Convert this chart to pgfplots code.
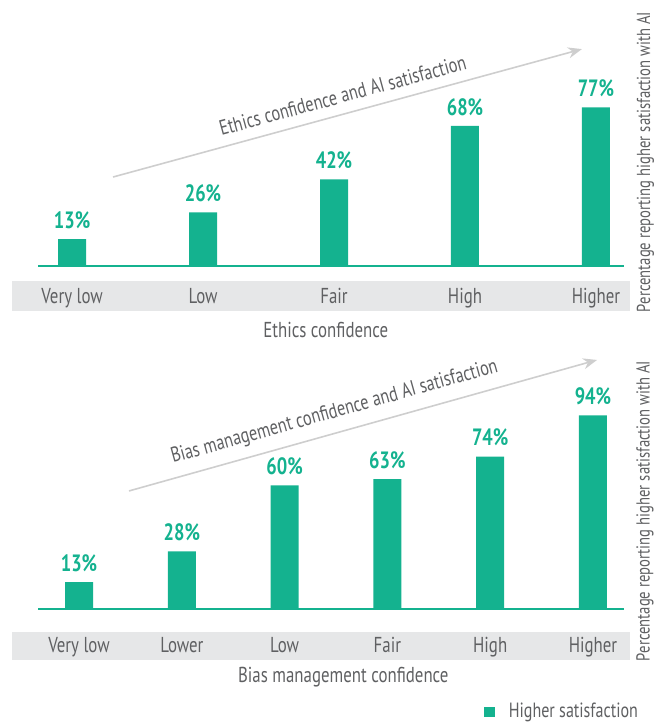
\documentclass[border=0pt]{standalone}
\usepackage{fontspec}
\setmainfont{PT Sans}[FakeStretch=0.78]
\usepackage{pgfplots}
\pgfplotsset{compat=1.18}
\usetikzlibrary{arrows.meta}

\definecolor{barcol}{RGB}{20,178,143}
\definecolor{txtgray}{RGB}{95,96,98}
\definecolor{bandgray}{RGB}{230,231,232}
\definecolor{arrowgray}{RGB}{206,206,206}

\newcommand{\ticksize}{\fontsize{10.8}{12}\selectfont}
\newcommand{\pctsize}{\fontsize{11.8}{13}\selectfont}
\newcommand{\arrowsize}{\fontsize{10.5}{12}\selectfont}
\newcommand{\ylabsize}{\fontsize{9.4}{11}\selectfont}
\newcommand{\legsize}{\fontsize{10.3}{12}\selectfont}

\pgfplotsset{
  satbars/.style={
    scale only axis, set layers, clip=false,
    ybar, bar width=14pt,
    ymin=0, ymax=100, height=103pt, width=293pt,
    axis lines*=left,
    y axis line style={draw=none}, ytick=\empty,
    x axis line style={draw=barcol, line width=0.8pt},
    xtick=data, major tick length=0pt,
    xticklabel style={anchor=base, font=\ticksize, text=txtgray},
    label style={font=\ticksize, text=txtgray},
    ylabel style={font=\ylabsize, text=txtgray, anchor=center},
    /pgf/number format/assume math mode=true,
    nodes near coords={\pgfmathprintnumber{\pgfplotspointmeta}\%},
    every node near coord/.append style={font=\bfseries\pctsize, text=barcol, inner sep=0pt, yshift=5pt},
  },
}

\begin{document}
\begin{tikzpicture}

% ethics
\begin{axis}[satbars,
  at={(19pt,229.5pt)}, anchor=south west,
  xmin=-0.26, xmax=4.214,
  xticklabels={Very low,Low,Fair,High,Higher},
  xticklabel style={yshift=-18.5pt},
  xlabel={Ethics confidence},
  xlabel style={at={(rel axis cs:0.491,0)}, anchor=base, yshift=-36pt},
  ylabel={Percentage reporting higher satisfaction with AI},
  ylabel style={at={(axis cs:4.378,50.5)}},
]
\begin{pgfonlayer}{axis background}
\fill[bandgray] (axis cs:-0.458,-7.28) rectangle (axis cs:4.26,-21.84);
\end{pgfonlayer}
\addplot[fill=barcol, draw=none] coordinates {(0,13) (1,26) (2,42) (3,68) (4,77)};
\draw[arrowgray, line width=0.8pt, -{Stealth[length=7pt,width=5.5pt]}]
  (axis cs:0.313,43.2) -- node[pos=0.5, sloped, anchor=base, yshift=5.5pt, font=\arrowsize, text=txtgray] {Ethics confidence and AI satisfaction}
  (axis cs:3.893,105.3);
\end{axis}

% bias management
\begin{axis}[satbars,
  at={(19pt,58pt)}, anchor=south west,
  xmin=-0.399, xmax=5.302,
  xticklabels={Very low,Lower,Low,Fair,High,Higher},
  xticklabel style={yshift=-21.5pt},
  xlabel={Bias management confidence},
  xlabel style={at={(rel axis cs:0.521,0)}, anchor=base, yshift=-37pt},
  ylabel={Percentage reporting higher satisfaction with AI},
  ylabel style={at={(axis cs:5.506,47.6)}},
  legend style={at={(axis cs:3.94,-50)}, anchor=west, draw=none, fill=none, inner sep=0pt, font=\legsize, text=txtgray,
    /tikz/every odd column/.append style={column sep=5pt}},
  legend image code/.code={\fill[barcol] (0pt,-2.6pt) rectangle (5.2pt,2.6pt);},
]
\begin{pgfonlayer}{axis background}
\fill[bandgray] (axis cs:-0.652,-11.17) rectangle (axis cs:5.36,-24.76);
\end{pgfonlayer}
\addplot[fill=barcol, draw=none] coordinates {(0,13) (1,28) (2,60) (3,63) (4,74) (5,94)};
\addlegendentry{Higher satisfaction}
\draw[arrowgray, line width=0.8pt, -{Stealth[length=7pt,width=5.5pt]}]
  (axis cs:0.486,57.3) -- node[pos=0.451, sloped, anchor=base, yshift=7.5pt, font=\arrowsize, text=txtgray] {Bias management confidence and AI satisfaction}
  (axis cs:5.04,120.9);
\end{axis}

\pgfresetboundingbox
\path[use as bounding box] (0,0) rectangle (327.5pt,362.5pt);
\end{tikzpicture}
\end{document}
